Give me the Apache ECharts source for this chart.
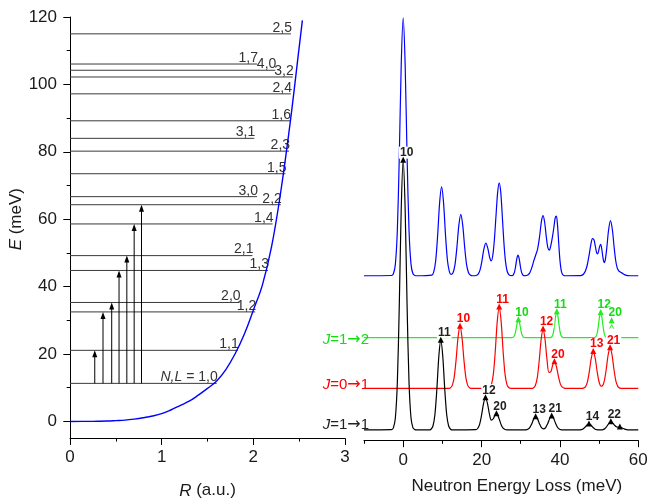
<!DOCTYPE html>
<html><head><meta charset="utf-8">
<script src="https://cdn.jsdelivr.net/npm/echarts@6/dist/echarts.min.js"></script>
<style>html,body{margin:0;padding:0;background:#fff}#c{width:647px;height:504px}</style>
</head><body><div id="c"></div>
<script>
// ---------- left panel data ----------
const potR = [0,0.2,0.3,0.4,0.5,0.6,0.7,0.8,0.9,1.0,1.1,1.2,1.3,1.4,1.5,1.6,1.7,1.8,1.9,2.0,2.1,2.2,2.3,2.4,2.5,2.535];
const potE = [0,0.02,0.06,0.12,0.25,0.4,0.7,1.1,1.6,2.3,3.4,4.7,6.0,7.8,9.8,12.0,15.4,20.0,25.8,33.0,40.6,52.0,68.3,88.2,111.0,119.0];
const levelLabels = ['N,L = 1,0','1,1','1,2','2,0','1,3','2,1','1,4','2,2','3,0','1,5','2,3','3,1','1,6','2,4','3,2','4,0','1,7','2,5'];
const levelE = [11.3,21.1,32.5,35.3,44.8,49.2,58.6,64.3,66.7,73.5,80.2,84.0,89.2,97.2,102.2,104.2,106.05,115.0];
const levelREnd = [1.60,1.83,2.02,1.85,2.16,1.99,2.21,2.30,2.04,2.35,2.39,2.01,2.40,2.41,2.43,2.24,2.04,2.41];
const arrowR = [0.27,0.36,0.455,0.535,0.62,0.70,0.78];
const arrowFrom = 11.3;
const arrowTo = [21.1,32.5,35.3,44.8,49.2,58.6,64.3];
const leftXTicks = [0,1,2,3];
const leftYTicks = [0,20,40,60,80,100,120];

// ---------- right panel data (energy meV, intensity a.u.) ----------
const blackCurve = [[-10,2.5],[-3,2.56],[-2.5,2.98],[-2,5.3],[-1.5,13.46],[-1,31.67],[-0.5,54.7],[0,66.2],[0.5,54.7],[1,31.67],[1.5,13.46],[2,5.3],[2.5,2.98],[3,2.56],[3.5,2.5],
[6.6,2.5],[7.1,2.66],[7.6,3.43],[8.1,6.15],[8.6,12.2],[9.1,19.9],[9.6,23.7],[10.1,19.9],[10.6,12.2],[11.1,6.15],[11.6,3.43],[12.1,2.66],[12.6,2.5],
[18.5,2.56],[19,2.83],[19.5,3.81],[20,5.98],[20.5,8.73],[21,10.1],[21.5,8.79],[22,6.28],[22.5,4.82],[23,5.14],[23.5,6.1],[23.8,6.3],[24,6.18],[24.5,5.09],[25,3.73],[25.5,2.9],[26,2.59],[26.5,2.5],
[31.3,2.52],[31.8,2.64],[32.3,3.03],[32.8,3.92],[33.3,5.04],[33.8,5.6],[34.3,5.04],[34.8,3.92],[35.3,3.03],[35.8,2.74],[36.3,2.97],[36.9,4.01],[37.4,5.21],[37.9,5.8],[38.4,5.21],[38.9,4.01],[39.4,3.07],[39.9,2.65],[40.4,2.53],[41,2.5],
[45,2.5],[45.4,2.56],[45.9,2.74],[46.4,3.14],[46.9,3.65],[47.4,3.9],[47.9,3.65],[48.4,3.14],[48.9,2.74],[49.4,2.56],[50,2.5],
[50.5,2.51],[51,2.58],[51.5,2.83],[52,3.37],[52.5,4.06],[53,4.4],[53.5,4.11],[54,3.53],[54.5,3.19],[55,3.14],[55.3,3.13],[55.6,3.07],[56,2.91],[56.5,2.7],[57,2.56],[57.5,2.51],[60,2.5]];
const redCurve = [[-10,12.3],[11.5,12.3],[12,12.41],[12.5,12.95],[13,14.83],[13.5,19.03],[14,24.38],[14.5,27.0],[15,24.38],[15.5,19.03],[16,14.83],[16.5,12.95],[17,12.41],[17.5,12.3],
[21.5,12.3],[22,12.45],[22.5,13.14],[23,15.6],[23.5,21.09],[24,28.08],[24.5,31.5],[25,28.08],[25.5,21.09],[26,15.6],[26.5,13.14],[27,12.45],[27.5,12.3],
[32.7,12.3],[33.2,12.41],[33.7,12.92],[34.2,14.71],[34.7,18.71],[35.2,23.78],[35.7,26.31],[36.2,23.85],[36.7,19.09],[37.2,16.07],[37.7,16.27],[38.2,17.97],[38.6,18.6],[39.1,17.47],[39.6,15.19],[40.1,13.38],[40.6,12.58],[41.1,12.35],[41.6,12.3],
[45.5,12.3],[46,12.37],[46.5,12.68],[47,13.8],[47.5,16.28],[48,19.43],[48.5,21.0],[49,19.43],[49.5,16.28],[50,13.82],[50.5,12.83],[50.8,12.86],[51.3,13.97],[51.8,16.7],[52.3,20.19],[52.8,21.9],[53.3,20.19],[53.8,16.7],[54.3,13.95],[54.8,12.72],[55.3,12.37],[55.8,12.3],[60,12.3]];
const greenCurve = [[-10,24.3],[27.6,24.3],[27.9,24.33],[28.2,24.48],[28.5,25.02],[28.8,26.22],[29.1,27.75],[29.4,28.5],[29.7,27.75],[30,26.22],[30.3,25.02],[30.6,24.48],[30.9,24.33],[31.2,24.3],
[37.4,24.3],[37.7,24.35],[38,24.57],[38.3,25.35],[38.6,27.09],[38.9,29.31],[39.2,30.4],[39.5,29.31],[39.8,27.09],[40.1,25.35],[40.4,24.57],[40.7,24.35],[41,24.3],
[48.6,24.3],[48.9,24.34],[49.2,24.56],[49.5,25.31],[49.8,27.0],[50.1,29.15],[50.4,30.2],[50.7,29.15],[51,27.0],[51.3,25.31],[51.6,24.56],[51.9,24.34],[52.2,24.3],
[52.6,24.32],[52.9,24.6],[53.2,24.8],[53.5,24.6],[53.8,24.32],[54.1,24.3],[60,24.3]];
const blueCurve = [[-10,38.9],[-3,38.96],[-2.5,39.36],[-2,41.58],[-1.5,49.4],[-1,66.8],[-0.5,88.8],[0,99.8],[0.5,88.8],[1,66.8],[1.5,49.4],[2,41.58],[2.5,39.36],[3,38.96],[3.5,38.9],
[7.3,39.06],[7.8,39.82],[8.3,42.51],[8.8,48.52],[9.3,56.16],[9.8,59.9],[10.3,56.16],[10.8,48.52],[11.3,42.51],[11.8,39.84],[12.2,39.24],[12.7,39.57],[13.2,41.39],[13.7,45.54],[14.2,50.79],[14.7,53.4],[15.2,50.79],[15.7,45.54],[16.2,41.39],[16.7,39.54],[17.2,39.01],[17.7,38.9],
[18.6,38.96],[19.1,39.24],[19.6,40.22],[20.1,42.43],[20.6,45.23],[21.1,46.62],[21.6,45.37],[22.1,43.09],[22.5,42.43],[22.9,43.91],[23.3,47.72],[23.7,53.25],[24.1,58.53],[24.5,60.85],[24.9,58.59],[25.3,52.91],[25.7,46.77],[26.1,42.35],[26.5,40.08],[26.9,39.22],[27.3,38.97],
[27.8,38.94],[28.1,39.12],[28.4,39.74],[28.7,41.14],[29.0,42.93],[29.3,43.8],[29.6,42.93],[29.9,41.14],[30.2,39.74],[30.5,39.12],[30.8,38.94],[31.1,38.9],
[31.3,38.93],[31.8,39.08],[32.3,39.59],[32.8,40.75],[33.3,42.34],[33.8,43.73],[34.3,45.19],[34.8,48.11],[35.3,51.85],[35.7,53.12],[36.1,51.53],[36.5,48.25],[36.9,45.59],[37.3,44.95],[37.7,46.15],[38.1,48.14],[38.5,50.64],[38.8,52.56],[39.1,52.99],[39.4,50.67],[39.7,46.46],[40.0,42.59],[40.3,40.31],[40.6,39.34],[41.0,38.97],[41.5,38.9],
[45.0,38.92],[45.5,38.99],[46.0,39.26],[46.5,40.01],[47.0,41.56],[47.5,44.09],[47.9,46.32],[48.3,47.68],[48.7,47.33],[49.1,45.55],[49.5,44.09],[49.8,44.43],[50.1,45.73],[50.4,46.29],[50.7,45.07],[51.0,43.05],[51.3,42.01],[51.6,42.75],[52.0,45.84],[52.4,49.59],[52.9,51.91],[53.4,49.64],[53.8,45.94],[54.2,42.68],[54.6,40.82],[55.0,40.07],[55.4,39.79],[55.8,39.58],[56.3,39.27],[56.8,39.04],[57.3,38.94],[58,38.9],[60,38.9]];

const blackPeakE = [0,9.6,21.0,23.8,33.8,37.9,47.4,53.0,55.3];
const blackPeakV = [66.2,23.7,10.1,6.3,5.6,5.8,3.9,4.4,3.2];
const blackPeakLabel = ['10','11','12','20','13','21','14','22',''];
const redPeakE = [14.5,24.5,35.7,38.6,48.5,52.8];
const redPeakV = [27.0,31.5,26.3,18.6,21.0,21.9];
const redPeakLabel = ['10','11','12','20','13','21'];
const greenPeakE = [29.4,39.2,50.4,53.2];
const greenPeakV = [28.5,30.4,30.2,28.3];
const greenPeakLabel = ['10','11','12','20'];
const curveNames = ['J=1→1','J=0→1','J=1→2'];
const rightXTicks = [0,20,40,60];

// ---------- styling / layout ----------
const FONT = '"Liberation Sans", Arial, Helvetica, sans-serif';
const TXT = '#1a1a1a';
const C_BLACK = '#000000', C_RED = '#ff0000', C_GREEN = '#22ee22', C_BLUE = '#0000ff';
const C_GREEN_TXT = '#11dd11';
const nameDy = [-5, -3.3, 2.7];      // px offset of curve names from baseline
const nameAnchorE = -8.7;            // right end of curve names
const curveNameColors = ['#222', C_RED, C_GREEN_TXT];
const curves = [blackCurve, redCurve, greenCurve];

const chart = echarts.init(document.getElementById('c'), null, {renderer: 'canvas'});

const axisLineStyle = {color: '#000', width: 1};
const labelStyle = {fontSize: 17, fontFamily: FONT, color: TXT};

function levelRender(params, api) {
  const i = params.dataIndex;
  const p0 = api.coord([0, levelE[i]]);
  const p1 = api.coord([levelREnd[i], levelE[i]]);
  let t = levelLabels[i];
  if (t.indexOf('N,L') === 0) t = '{i|N,L}' + t.slice(3);
  return {type: 'group', children: [
    {type: 'line', shape: {x1: p0[0], y1: p0[1], x2: p1[0], y2: p1[1]}, style: {stroke: '#3a3a3a', lineWidth: 1}},
    {type: 'text', x: p1[0] + 1, y: p1[1] + 1, style: {text: t, fill: '#333', fontSize: 14, fontFamily: FONT,
      align: 'right', verticalAlign: 'bottom', rich: {i: {fontStyle: 'italic', fontSize: 14, fontFamily: FONT, fill: '#333'}}}}
  ]};
}
function arrowRender(params, api) {
  const i = params.dataIndex;
  const a = api.coord([arrowR[i], arrowFrom]);
  const b = api.coord([arrowR[i], arrowTo[i]]);
  return {type: 'group', children: [
    {type: 'line', shape: {x1: a[0], y1: a[1], x2: b[0], y2: b[1] + 5}, style: {stroke: '#000', lineWidth: 1}},
    {type: 'polygon', shape: {points: [[b[0], b[1]], [b[0] - 2.5, b[1] + 7], [b[0] + 2.5, b[1] + 7]]}, style: {fill: '#000'}}
  ]};
}
function markerSeries(E, V, L, color, txtColor, caretIdx) {
  return {
    type: 'custom', xAxisIndex: 2, yAxisIndex: 2, z: 5, silent: true,
    data: E.map((e, i) => [e, V[i]]),
    renderItem: function (params, api) {
      const p = api.coord([api.value(0), api.value(1)]);
      const lab = L[params.dataIndex];
      const ch = [];
      if (lab) ch.push({type: 'text', x: p[0] + 3.5, y: p[1] - 1.5, style: {text: lab, fill: txtColor, fontSize: 12, fontWeight: 'bold',
        fontFamily: FONT, align: 'center', verticalAlign: 'bottom', backgroundColor: '#fff', padding: [0, 1, 0, 1]}});
      ch.push({type: 'polygon', shape: {points: [[p[0], p[1] - 3.5], [p[0] - 3, p[1] + 2.5], [p[0] + 3, p[1] + 2.5]]}, style: {fill: color}});
      if (params.dataIndex === caretIdx) {
        ch.push({type: 'polyline', shape: {points: [[p[0] - 2, p[1] + 8], [p[0], p[1] + 4], [p[0] + 2, p[1] + 8]]}, style: {stroke: color, lineWidth: 1, fill: null}});
      }
      return {type: 'group', children: ch};
    }
  };
}
function lineSeries(data, color, w) {
  return {type: 'line', xAxisIndex: 2, yAxisIndex: 2, data: data, showSymbol: false, symbol: 'none', smooth: 0.3,
    lineStyle: {color: color, width: w}, itemStyle: {color: color}, z: 2, silent: true};
}

const option = {
  animation: false,
  backgroundColor: '#fff',
  grid: [
    {left: 70, top: 17, width: 275, height: 421.3, containLabel: false, outerBoundsMode: 'none'},
    {left: 70, top: 17, width: 275, height: 404.4, containLabel: false, outerBoundsMode: 'none'},
    {left: 364, top: 17, width: 274.3, height: 423.5, containLabel: false, outerBoundsMode: 'none'},
    {left: 403.3, top: 17, width: 235, height: 423.5, containLabel: false, outerBoundsMode: 'none'}
  ],
  xAxis: [
    {gridIndex: 0, type: 'value', min: leftXTicks[0], max: leftXTicks[leftXTicks.length - 1], interval: 1,
      axisLine: {show: true, onZero: false, lineStyle: axisLineStyle},
      axisTick: {show: true, length: 6.7, lineStyle: axisLineStyle},
      minorTick: {show: true, splitNumber: 2, length: 3.3, lineStyle: axisLineStyle},
      splitLine: {show: false}, minorSplitLine: {show: false},
      axisLabel: Object.assign({margin: 11}, labelStyle),
      name: '{i|R} (a.u.)', nameLocation: 'middle', nameGap: 44,
      nameTextStyle: {fontSize: 17, fontFamily: FONT, color: TXT, rich: {i: {fontStyle: 'italic', fontSize: 17, fontFamily: FONT, color: TXT}}}},
    {gridIndex: 1, type: 'value', min: 0, max: 3, show: false},
    {gridIndex: 2, type: 'value', min: -10, max: 60, interval: 10,
      axisLine: {show: true, onZero: false, lineStyle: axisLineStyle},
      axisTick: {show: true, length: 3.3, lineStyle: axisLineStyle},
      axisLabel: {show: false}, splitLine: {show: false}},
    {gridIndex: 3, type: 'value', min: rightXTicks[0], max: rightXTicks[rightXTicks.length - 1], interval: 20,
      axisLine: {show: false, onZero: false},
      axisTick: {show: true, length: 6.7, lineStyle: axisLineStyle},
      axisLabel: Object.assign({margin: 11}, labelStyle), splitLine: {show: false},
      name: 'Neutron Energy Loss (meV)', nameLocation: 'middle', nameGap: 37,
      nameTextStyle: {fontSize: 17, fontFamily: FONT, color: TXT, padding: [0, 8, 0, 0]}}
  ],
  yAxis: [
    {gridIndex: 0, type: 'value', min: -5, max: 120,
      axisLine: {show: true, onZero: false, lineStyle: axisLineStyle},
      axisTick: {show: false}, axisLabel: {show: false}, splitLine: {show: false}},
    {gridIndex: 1, type: 'value', min: leftYTicks[0], max: leftYTicks[leftYTicks.length - 1], interval: 20,
      axisLine: {show: false, onZero: false},
      axisTick: {show: true, length: 6.7, lineStyle: axisLineStyle},
      minorTick: {show: true, splitNumber: 2, length: 3.3, lineStyle: axisLineStyle},
      splitLine: {show: false}, minorSplitLine: {show: false},
      axisLabel: Object.assign({margin: 13}, labelStyle),
      name: '{i|E} (meV)', nameLocation: 'middle', nameGap: 41, nameRotate: 90,
      nameTextStyle: {fontSize: 17, fontFamily: FONT, color: TXT, rich: {i: {fontStyle: 'italic', fontSize: 17, fontFamily: FONT, color: TXT}}}},
    {gridIndex: 2, type: 'value', min: 0, max: 100, show: false},
    {gridIndex: 3, type: 'value', min: 0, max: 100, show: false}
  ],
  series: [
    {type: 'custom', xAxisIndex: 0, yAxisIndex: 0, data: levelE.map((e, i) => [levelREnd[i], e]), renderItem: levelRender, z: 2, silent: true},
    {type: 'custom', xAxisIndex: 0, yAxisIndex: 0, data: arrowR.map((r, i) => [r, arrowTo[i]]), renderItem: arrowRender, z: 3, silent: true},
    {type: 'line', xAxisIndex: 0, yAxisIndex: 0, data: potR.map((r, i) => [r, potE[i]]), smooth: 0.4, showSymbol: false, symbol: 'none',
      lineStyle: {color: C_BLUE, width: 1.4}, z: 4, silent: true},
    lineSeries(blueCurve, C_BLUE, 1.2),
    lineSeries(greenCurve, C_GREEN, 1.2),
    lineSeries(redCurve, C_RED, 1.2),
    lineSeries(blackCurve, C_BLACK, 1.2),
    markerSeries(blackPeakE, blackPeakV, blackPeakLabel, '#000', '#222', -1),
    markerSeries(redPeakE, redPeakV, redPeakLabel, C_RED, C_RED, -1),
    markerSeries(greenPeakE, greenPeakV, greenPeakLabel, C_GREEN, C_GREEN_TXT, 3),
    {type: 'custom', xAxisIndex: 2, yAxisIndex: 2, z: 6, silent: true,
      data: curves.map(c => [nameAnchorE, c[0][1]]),
      renderItem: function (params, api) {
        const i = params.dataIndex;
        const p = api.coord([api.value(0), api.value(1)]);
        const col = curveNameColors[i];
        const t = '{i|J}' + curveNames[i].slice(1).replace('→', '{a|→}');
        return {type: 'text', x: p[0], y: p[1] + nameDy[i], style: {text: t, fill: col, fontSize: 15, fontFamily: FONT,
          align: 'right', verticalAlign: 'middle', rich: {
            i: {fontStyle: 'italic', fontSize: 15, fontFamily: FONT, fill: col},
            a: {fontSize: 16, fontFamily: '"DejaVu Sans", sans-serif', fill: col}}}};
      }}
  ]
};
chart.setOption(option);
</script>
</body></html>
